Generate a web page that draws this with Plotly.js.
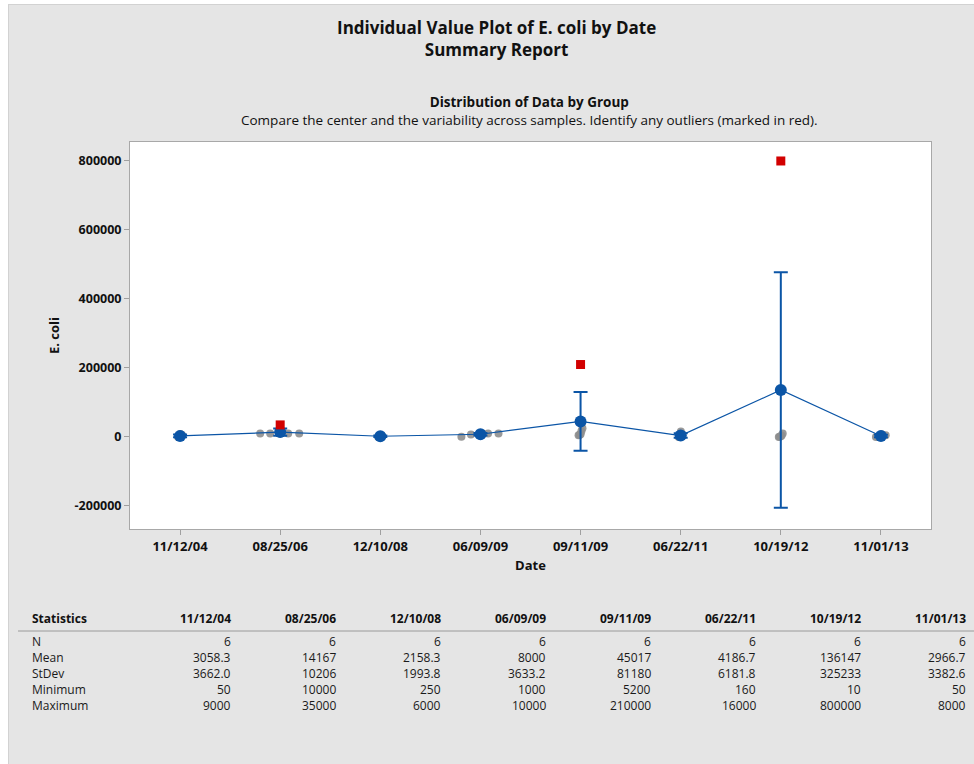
<!DOCTYPE html>
<html>
<head>
<meta charset="utf-8">
<script src="https://cdn.plot.ly/plotly-3.0.1.min.js"></script>
<style>
  html, body { margin: 0; padding: 0; background: #ffffff; }
  #frame { position: absolute; left: 8px; top: 4px; width: 965px; height: 759px;
           border-left: 1px solid #d2d2d2; border-top: 1px solid #d2d2d2; background: #e5e5e5; }
  #chart { width: 965px; height: 759px; }
</style>
</head>
<body>
<div id="frame"><div id="chart"></div></div>
<script>
// ---------------- DATA ----------------
const dates = ["11/12/04", "08/25/06", "12/10/08", "06/09/09", "09/11/09", "06/22/11", "10/19/12", "11/01/13"];

// individual observations (6 per date, estimated to match the summary statistics)
const obs_111204 = [50, 100, 200, 3500, 5500, 9000];
const obs_082506 = [10000, 10000, 10000, 10000, 10000, 35000];
const obs_121008 = [250, 1000, 1500, 2000, 2200, 6000];
const obs_060909 = [1000, 7000, 10000, 10000, 10000, 10000];
const obs_091109 = [5200, 5500, 8000, 16400, 25000, 210000];
const obs_062211 = [160, 300, 1000, 2000, 5660, 16000];
const obs_101912 = [10, 500, 2000, 4372, 10000, 800000];
const obs_110113 = [50, 100, 200, 4450, 5000, 8000];

// outliers (marked in red)
const outlierDates = ["08/25/06", "09/11/09", "10/19/12"];
const outlierValues = [35000, 210000, 800000];

// summary statistics (as reported)
const statN      = [6, 6, 6, 6, 6, 6, 6, 6];
const statMean   = [3058.3, 14167, 2158.3, 8000, 45017, 4186.7, 136147, 2966.7];
const statStDev  = [3662.0, 10206, 1993.8, 3633.2, 81180, 6181.8, 325233, 3382.6];
const statMin    = [50, 10000, 250, 1000, 5200, 160, 10, 50];
const statMax    = [9000, 35000, 6000, 10000, 210000, 16000, 800000, 8000];
const statMeanTxt  = ["3058.3", "14167", "2158.3", "8000", "45017", "4186.7", "136147", "2966.7"];
const statStDevTxt = ["3662.0", "10206", "1993.8", "3633.2", "81180", "6181.8", "325233", "3382.6"];
const yTicks = [-200000, 0, 200000, 400000, 600000, 800000];

// ---------------- BUILD ----------------
const groups = [obs_111204, obs_082506, obs_121008, obs_060909, obs_091109, obs_062211, obs_101912, obs_110113];
const BLUE = "#0b55a6", GRAY = "#8e8e8e", RED = "#d20000";
const FONT = "Open Sans, Noto Sans, sans-serif";

// horizontal jitter (style): spread for tightly clustered groups
const jitterWidth = [0.02, 0.2, 0.02, 0.19, 0.02, 0.02, 0.02, 0.05];
const jitterPattern = [-1, -0.5, 0, 0.4, 0.95, 0.1];

const gx = [], gy = [];
groups.forEach((vals, i) => {
  vals.forEach((v, j) => {
    const isOut = outlierDates.includes(dates[i]) && outlierValues[outlierDates.indexOf(dates[i])] === v;
    if (isOut) return;
    gx.push(i + jitterPattern[j] * jitterWidth[i]);
    gy.push(v);
  });
});

// 95% CI for the mean: t(0.975, n-1) * s / sqrt(n)
const tcrit = {5: 2.5706};
const ci = statMean.map((m, i) => tcrit[statN[i] - 1] * statStDev[i] / Math.sqrt(statN[i]));
const idx = dates.map((d, i) => i);

const traces = [
  { type: "scatter", mode: "markers", x: gx, y: gy, hoverinfo: "y",
    marker: { color: GRAY, size: 8, opacity: 0.9 }, showlegend: false },
  { type: "scatter", mode: "lines+markers", x: idx, y: statMean,
    line: { color: BLUE, width: 1.2 },
    marker: { color: BLUE, size: 12 },
    error_y: { type: "data", array: ci, symmetric: true, color: BLUE, thickness: 2, width: 7 },
    showlegend: false },
  { type: "scatter", mode: "markers", x: outlierDates.map(d => dates.indexOf(d)), y: outlierValues,
    marker: { color: RED, size: 9, symbol: "square" }, showlegend: false }
];

// ---------------- LAYOUT (absolute page pixel helpers) ----------------
const FX = 8, FY = 5;           // frame offset on page
const PL = 130, PR = 931, PT = 142, PB = 529;   // plot area in page pixels
const px = p => (p - PL) / (PR - PL);
const py = p => (PB - p) / (PB - PT);
const yTop = 855000, yBot = -266700;

const ann = [];
function txt(text, x, y, opts) {
  ann.push(Object.assign({ text: text, xref: "paper", yref: "paper", x: px(x), y: py(y),
    showarrow: false, xanchor: "center", yanchor: "middle", borderpad: 0,
    font: { family: FONT, size: 12, color: "#1a1a1a" } }, opts || {}));
}
txt("<b>Individual Value Plot of E. coli by Date</b><br><b>Summary Report</b>", 496, 39,
    { font: { family: FONT, size: 17, color: "#111" } });
txt("<b>Distribution of Data by Group</b><br>Compare the center and the variability across samples. Identify any outliers (marked in red).",
    529, 110.5, { font: { family: FONT, size: 13.5, color: "#111" } });

// statistics table
const colRight = [232, 337, 442, 547, 652, 757, 862, 967];
const rowY = [641, 657, 673, 689, 705];
const rowLabels = ["N", "Mean", "StDev", "Minimum", "Maximum"];
const rows = [statN.map(String), statMeanTxt, statStDevTxt, statMin.map(String), statMax.map(String)];
const HDR = { family: FONT, size: 12, color: "#111" };
txt("<b>Statistics</b>", 31, 618, { xanchor: "left", font: HDR });
dates.forEach((d, i) => txt("<b>" + d + "</b>", colRight[i], 618, { xanchor: "right", font: HDR }));
rowLabels.forEach((lab, r) => {
  txt(lab, 31, rowY[r], { xanchor: "left" });
  rows[r].forEach((v, i) => txt(v, colRight[i], rowY[r], { xanchor: "right" }));
});

const layout = {
  width: 965, height: 759,
  paper_bgcolor: "#e5e5e5", plot_bgcolor: "#ffffff",
  margin: { l: PL - FX - 1, r: 965 + FX + 1 - PR, t: PT - FY, b: 759 + FY - PB, pad: 0 },
  font: { family: FONT, size: 12, color: "#111" },
  xaxis: {
    range: [-0.5, 7.5], tickvals: idx, ticktext: dates,
    tickfont: { family: FONT, size: 13, color: "#111", weight: "bold" },
    ticks: "outside", ticklen: 5, tickcolor: "#a0a0a0",
    showgrid: false, zeroline: false, showline: true, mirror: true, linecolor: "#a8a8a8", linewidth: 1,
    title: { text: "<b>Date</b>", font: { family: FONT, size: 13, color: "#111" }, standoff: 7 }
  },
  yaxis: {
    range: [yBot, yTop], tickvals: yTicks, ticktext: yTicks.map(String),
    tickfont: { family: FONT, size: 12.5, color: "#111", weight: "bold" },
    ticks: "outside", ticklen: 5, tickcolor: "#a0a0a0",
    showgrid: false, zeroline: false, showline: true, mirror: true, linecolor: "#a8a8a8", linewidth: 1,
    title: { text: "<b>E. coli</b>", font: { family: FONT, size: 13, color: "#111" }, standoff: 12 }
  },
  shapes: [
    { type: "line", xref: "paper", yref: "paper", x0: px(18), x1: px(974), y0: py(631), y1: py(631),
      line: { color: "#9a9a9a", width: 1 } }
  ],
  annotations: ann,
  showlegend: false
};

Plotly.newPlot("chart", traces, layout, { displayModeBar: false, staticPlot: true });
</script>
</body>
</html>
